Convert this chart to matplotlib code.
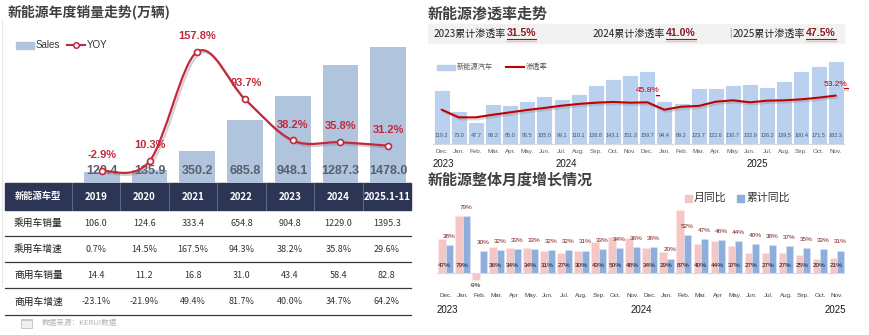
import matplotlib
matplotlib.use('Agg')
import numpy as np
import matplotlib.pyplot as plt
from matplotlib import font_manager
from matplotlib.patches import Rectangle, PathPatch
from matplotlib.path import Path
import matplotlib.patheffects as pe

# ---------------- data ----------------
years = ['2019', '2020', '2021', '2022', '2023', '2024', '2025.1-11']
sales = [120.4, 135.9, 350.2, 685.8, 948.1, 1287.3, 1478.0]
yoy = [-2.9, 10.3, 157.8, 93.7, 38.2, 35.8, 31.2]

row_names = ['乘用车销量', '乘用车增速', '商用车销量', '商用车增速']
pv_sales = [106.0, 124.6, 333.4, 654.8, 904.8, 1229.0, 1395.3]
pv_growth = [0.7, 14.5, 167.5, 94.3, 38.2, 35.8, 29.6]
cv_sales = [14.4, 11.2, 16.8, 31.0, 43.4, 58.4, 82.8]
cv_growth = [-23.1, -21.9, 49.4, 81.7, 40.0, 34.7, 64.2]

cum_years = ['2023', '2024', '2025']
cum_penetration = [31.5, 41.0, 47.5]

months_top = ['Dec.', 'Jan.', 'Feb.', 'Mar.', 'Apr.', 'May.', 'Jun.', 'Jul.', 'Aug.', 'Sep.',
              'Oct.', 'Nov.', 'Dec.', 'Jan.', 'Feb.', 'Mar.', 'Apr.', 'May.', 'Jun.', 'Jul.',
              'Aug.', 'Sep.', 'Oct.', 'Nov.']
nev_monthly = [119.2, 73.0, 47.7, 88.2, 85.0, 95.5, 105.0, 99.1, 110.1, 128.8, 143.1, 151.3,
               159.7, 94.4, 89.2, 123.7, 122.6, 130.7, 132.9, 126.2, 139.5, 160.4, 171.5, 182.3]
penetration = [37.7, 29.3, 29.3, 32.2, 34.8, 37.4, 39.6, 42.1, 44.0, 45.4, 46.2, 45.4,
               45.8, 37.7, 41.0, 41.8, 46.5, 48.0, 45.8, 47.6, 48.0, 49.1, 50.9, 53.2]

months_bottom = ['Dec.', 'Jan.', 'Feb.', 'Mar.', 'Apr', 'May.', 'Jun.', 'Jul.', 'Aug.', 'Sep.',
                 'Oct.', 'Nov.', 'Dec.', 'Jan.', 'Feb.', 'Mar.', 'Apr', 'May.', 'Jun.', 'Jul.',
                 'Aug.', 'Sep.', 'Oct.', 'Nov.']
mom = [47, 79, -9, 36, 34, 34, 31, 27, 30, 43, 50, 48, 34, 29, 87, 40, 44, 37, 27, 27, 27, 25, 20, 21]
ytd = [38, 79, 30, 32, 33, 33, 32, 32, 31, 33, 34, 36, 36, 20, 52, 47, 46, 44, 40, 38, 37, 35, 33, 31]

# ---------------- fonts & colours ----------------
CJK = ['Noto Sans CJK SC', 'DejaVu Sans']
plt.rcParams['font.family'] = CJK
_names = {f.name for f in font_manager.fontManager.ttflist}
LAT = 'Liberation Sans' if 'Liberation Sans' in _names else 'DejaVu Sans'

TITLE_C = '#404040'
BAR_BLUE = '#b0c4de'
YOY_RED = '#c22a3c'
NAVY = '#2d3555'
PEN_BAR = '#b9d0ef'
PEN_RED = '#c00000'
PINK = '#f4c6c6'
BLUE2 = '#8eaedd'

W, H = 870, 335
fig = plt.figure(figsize=(W / 100, H / 100), dpi=100)


def rect(x0, y0, x1, y1):
    return [x0 / W, 1 - y1 / H, (x1 - x0) / W, (y1 - y0) / H]


# full-figure layer in pixel units for titles, table and legends
bg = fig.add_axes([0, 0, 1, 1])
bg.set_xlim(0, W)
bg.set_ylim(H, 0)
bg.axis('off')

# ================= left: yearly sales =================
bg.text(8, 12, '新能源年度销量走势(万辆)', fontsize=10, fontweight='bold', color=TITLE_C,
        va='center', ha='left')
bg.plot([2.5, 2.5], [20, 286], color='#e6e6e6', lw=0.8)

# legend
bg.add_patch(Rectangle((16, 42), 18, 6.5, color=BAR_BLUE))
bg.text(36, 45, 'Sales', fontsize=7, family=LAT, color='#333333', va='center')
bg.plot([67, 85], [45, 45], color=YOY_RED, lw=1.5)
bg.plot([76], [45], 'o', ms=4, mfc='white', mec=YOY_RED, mew=1.1)
bg.text(87, 45, 'YOY', fontsize=7, family=LAT, color='#333333', va='center')

ax1 = fig.add_axes(rect(78, 40, 412, 183))
ax1.set_facecolor('none')
x1 = np.arange(len(years))
ax1.bar(x1, sales, width=0.75, color=BAR_BLUE, zorder=2)
ax1.set_xlim(-0.5, len(years) - 0.5)
ax1.set_ylim(0, 1554)
ax1.axis('off')
for xi, v in zip(x1, sales):
    ax1.text(xi, 130, f'{v:.1f}', ha='center', va='center', fontsize=9,
             fontweight='bold', color='#59606b', family=LAT, zorder=3)

ax1b = ax1.twinx()
ax1b.set_ylim(-19.1, 173.6)
ax1b.axis('off')


def smooth_path(xs, ys):
    pts = np.column_stack([xs, ys]).astype(float)
    n = len(pts)
    verts = [pts[0]]
    codes = [Path.MOVETO]
    for i in range(n - 1):
        p0 = pts[i - 1] if i > 0 else pts[i]
        p1, p2 = pts[i], pts[i + 1]
        p3 = pts[i + 2] if i + 2 < n else pts[i + 1]
        verts += [p1 + (p2 - p0) / 6, p2 - (p3 - p1) / 6, p2]
        codes += [Path.CURVE4] * 3
    return Path(verts, codes)


curve = PathPatch(smooth_path(x1, yoy), fill=False, edgecolor=YOY_RED, lw=1.6,
                  transform=ax1b.transData,
                  path_effects=[pe.SimpleLineShadow(offset=(1.5, -1.5), shadow_color='#808080', alpha=0.35),
                                pe.Normal()])
ax1b.add_patch(curve)
ax1b.plot(x1, yoy, 'o', ms=4.3, mfc='white', mec=YOY_RED, mew=1.2, zorder=5)
for xi, v in zip(x1, yoy):
    ax1b.annotate(f'{v:.1f}%', (xi, v), xytext=(1 if 90 < v < 100 else 0, 11.5),
                  textcoords='offset points', ha='center', va='center', fontsize=8,
                  fontweight='bold', color=YOY_RED, family=LAT)

# ---- table ----
tab_x0, tab_x1 = 5, 411
first_w = 66.7
col_w = (tab_x1 - tab_x0 - first_w) / len(years)
row_edges = [183, 210, 236, 262, 288, 315]
bg.add_patch(Rectangle((tab_x0, row_edges[0]), tab_x1 - tab_x0, row_edges[1] - row_edges[0],
                       color=NAVY))
for k in range(len(years)):
    xs = tab_x0 + first_w + k * col_w
    bg.plot([xs, xs], [row_edges[0], row_edges[1]], color='#6b7392', lw=0.6)
hy = (row_edges[0] + row_edges[1]) / 2
bg.text(tab_x0 + first_w / 2, hy, '新能源车型', color='white', fontsize=6.7, fontweight='bold',
        ha='center', va='center')
for k, yname in enumerate(years):
    bg.text(tab_x0 + first_w + (k + 0.5) * col_w, hy, yname, color='white', fontsize=7,
            fontweight='bold', ha='center', va='center')

rows = [[f'{v:.1f}' for v in pv_sales],
        [f'{v:.1f}%' for v in pv_growth],
        [f'{v:.1f}' for v in cv_sales],
        [f'{v:.1f}%' for v in cv_growth]]
for r, (name, vals) in enumerate(zip(row_names, rows)):
    cy = (row_edges[r + 1] + row_edges[r + 2]) / 2
    bg.text(tab_x0 + first_w / 2, cy, name, fontsize=7, color='#1a1a1a', ha='center', va='center')
    for k, s in enumerate(vals):
        bg.text(tab_x0 + first_w + (k + 0.5) * col_w, cy, s, fontsize=6.5, color='#333333',
                ha='center', va='center')
    bg.plot([tab_x0, tab_x1], [row_edges[r + 2], row_edges[r + 2]], color='#3a3a3a', lw=0.9)

# source note
bg.add_patch(Rectangle((21, 318.5), 11.5, 9.5, facecolor='#f0f0f0', edgecolor='#c8c8c8', lw=0.7))
bg.add_patch(Rectangle((21, 318.5), 11.5, 2.5, facecolor='#c8c8c8', edgecolor='none'))
bg.text(42, 323.5, '数据来源：KERUI数据', fontsize=5.5, color='#b0b0b0', va='center')

# ================= right top: penetration =================
bg.text(428, 14, '新能源渗透率走势', fontsize=10.8, fontweight='bold', color=TITLE_C, va='center')
bg.add_patch(Rectangle((428, 24), 416, 19, color='#f2f2f2'))
band_pos = [506, 665, 805]
underline_texts = []
for yr, val, xp in zip(cum_years, cum_penetration, band_pos):
    bg.text(xp, 33.5, f'{yr}累计渗透率', fontsize=7.2, color='#222222', ha='right', va='center')
    t = bg.text(xp + 1, 33.5, f'{val:.1f}%', fontsize=7.6, fontweight='bold', color='#8b1c24',
                family=LAT, ha='left', va='center')
    underline_texts.append((t, '#8b1c24'))
bg.text(730, 33.5, '|', fontsize=7, color='#9a9a9a', va='center', ha='center', family=LAT)

# legend
bg.add_patch(Rectangle((437, 64.5), 18, 5, color=PEN_BAR))
bg.text(457, 67, '新能源汽车', fontsize=5.2, color='#595959', va='center')
bg.plot([506, 524], [67, 67], color=PEN_RED, lw=1.5)
bg.text(526, 67, '渗透率', fontsize=5.2, color='#595959', va='center')

ax2 = fig.add_axes(rect(433.1, 53, 844.3, 144))
ax2.set_facecolor('none')
x2 = np.arange(len(nev_monthly))
ax2.bar(x2, nev_monthly, width=0.93, color=PEN_BAR, edgecolor='white', lw=0.6)
for xi, v in zip(x2, nev_monthly):
    ax2.text(xi, 17.6, f'{v:.1f}', ha='center', va='center', fontsize=4,
             family=LAT, color='#44546a')
ax2.set_xlim(-0.5, len(nev_monthly) - 0.5)
ax2.set_ylim(0, 200)
for s in ['top', 'right', 'left']:
    ax2.spines[s].set_visible(False)
ax2.spines['bottom'].set_color('#d9d9d9')
ax2.spines['bottom'].set_linewidth(0.8)
ax2.set_yticks([])
ax2.set_xticks(x2)
ax2.set_xticklabels(months_top, fontsize=4.5, family=LAT, color='#595959')
ax2.tick_params(axis='x', length=0, pad=3.5)
for txt, xp in zip(['2023', '2024', '2025'], [0.1, 7.3, 18.4]):
    ax2.text(xp, -0.22, txt, transform=ax2.get_xaxis_transform(), ha='center', va='center',
             fontsize=7, family=LAT, color='#1a1a1a')

ax2b = ax2.twinx()
ax2b.set_ylim(0, 100)
ax2b.axis('off')
ax2b.plot(x2, penetration, color=PEN_RED, lw=1.5, solid_capstyle='round',
          path_effects=[pe.SimpleLineShadow(offset=(1.2, -1.5), shadow_color='#808080', alpha=0.3),
                        pe.Normal()])
for idx in (12, 23):
    t = ax2b.annotate(f'{penetration[idx]:.1f}%', (x2[idx], penetration[idx]), xytext=(0, 8.2),
                      textcoords='offset points', ha='center', va='center', fontsize=6,
                      family=LAT, color=PEN_RED)
    underline_texts.append((t, PEN_RED))

# ================= right bottom: monthly growth =================
bg.text(428, 180, '新能源整体月度增长情况', fontsize=10.8, fontweight='bold', color=TITLE_C,
        va='center')
bg.add_patch(Rectangle((685, 194.5), 7, 7, color=PINK))
bg.text(694, 198, '月同比', fontsize=7.8, color='#333333', va='center')
bg.add_patch(Rectangle((737, 194.5), 7, 7, color=BLUE2))
bg.text(746, 198, '累计同比', fontsize=7.8, color='#333333', va='center')

ax3 = fig.add_axes(rect(437, 200.5, 845.5, 290.4))
ax3.set_facecolor('none')
x3 = np.arange(len(mom))
bw = 0.43
ax3.bar(x3 - bw / 2, mom, width=bw, color=PINK, edgecolor='#fbe6e6', lw=0.4)
ax3.bar(x3 + bw / 2, ytd, width=bw, color=BLUE2, edgecolor='#dbe6f6', lw=0.4)
ax3.axhline(0, color='#d9d9d9', lw=0.8)
ax3.set_xlim(-0.5, len(mom) - 0.5)
ax3.set_ylim(-24, 100)
for s in ax3.spines.values():
    s.set_visible(False)
ax3.set_yticks([])
ax3.set_xticks(x3)
ax3.set_xticklabels(months_bottom, fontsize=4.5, family=LAT, color='#404040')
ax3.tick_params(axis='x', length=0, pad=2.2)
for xi, v in zip(x3, ytd):
    ax3.annotate(f'{v}%', (xi + bw / 2, v), xytext=(0, 6.2), textcoords='offset points',
                 ha='center', va='center', fontsize=4.6, family=LAT, color='#7f1d1d')
for xi, v in zip(x3, mom):
    if v >= 0:
        ax3.text(xi - 0.05, 10.8, f'{v}%', ha='center', va='center', fontsize=4.6, family=LAT,
                 color='#111111')
    else:
        ax3.annotate(f'{v}%', (xi - bw / 2, v), xytext=(0, -4), textcoords='offset points',
                     ha='center', va='center', fontsize=4.6, family=LAT, color='#111111')
for txt, xp in zip(['2023', '2024', '2025'], [0.1, 11.5, 22.9]):
    ax3.text(xp, -0.218, txt, transform=ax3.get_xaxis_transform(), ha='center', va='center',
             fontsize=7, family=LAT, color='#1a1a1a')

# underline the highlighted percentages
fig.canvas.draw()
renderer = fig.canvas.get_renderer()
for t, col in underline_texts:
    bb = t.get_window_extent(renderer)
    yl = H - bb.y0 + 0.8
    bg.plot([bb.x0, bb.x1], [yl + 1.2, yl + 1.2], color='#e8c4c4', lw=1.0)
    bg.plot([bb.x0, bb.x1], [yl, yl], color=col, lw=0.8)

fig.savefig('out.png', dpi=100)
